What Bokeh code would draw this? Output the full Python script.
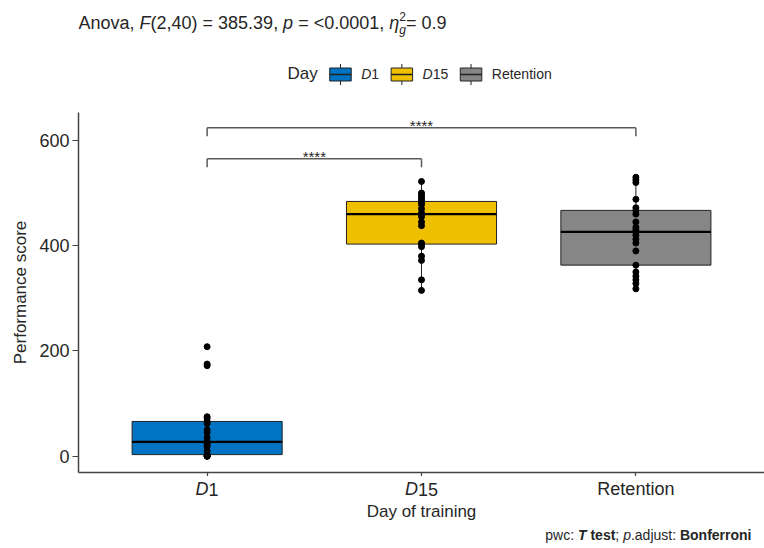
import numpy as np
from bokeh.plotting import figure
from bokeh.models import Range1d, FixedTicker, Label
from bokeh.layouts import column
from bokeh.embed import file_html
from bokeh.resources import INLINE

# ---------------- data ----------------
categories = ["D1", "D15", "Retention"]
colors = ["#0073C2", "#EFC000", "#868686"]
d1_scores = [0, 0, 0, 1, 2, 3, 10, 18, 22, 25, 27, 35, 45, 50, 62, 66, 72, 75, 172, 175, 208]
d15_scores = [315, 335, 372, 380, 398, 403, 405, 438, 445, 455, 460, 462, 470, 478, 482, 484, 488, 492, 496, 500, 522]
retention_scores = [318, 328, 335, 342, 350, 363, 390, 405, 412, 420, 426, 430, 435, 445, 460, 467, 472, 488, 520, 525, 530]
y_ticks = [0, 200, 400, 600]
bracket_from = ["D1", "D1"]
bracket_to = ["D15", "Retention"]
bracket_y = [565, 624]
bracket_label = ["****", "****"]
y_label = "Performance score"
x_label = "Day of training"
legend_title = "Day"

# ---------------- style / layout ----------------
FONT = "Liberation Sans"
TEXT = "#262626"
W, H = 764, 548
HEADER_H = 104
MAIN_TOP_B, MAIN_BOT_B = 8, 4
FRAME_L, FRAME_R, FRAME_T, FRAME_B = 78, 764, 112, 472  # page px
MAIN_H = MAIN_TOP_B + (FRAME_B - FRAME_T) + MAIN_BOT_B
BOTTOM_TOP = HEADER_H + MAIN_H
BOTTOM_H = H - BOTTOM_TOP
X0, X1 = 0.4, 3.6
Y0, Y1 = -31, 653
BASE_FIX = 0.36  # lift (in em) so that y is the alphabetic baseline

REG = {' ': 278, '!': 278, '(': 333, ')': 333, '*': 389, ',': 278, '.': 278, ':': 278, ';': 278,
       '<': 584, '=': 584, 'A': 667, 'B': 667, 'D': 722, 'F': 611, 'P': 667, 'R': 722, 'T': 611,
       'a': 556, 'c': 500, 'd': 556, 'e': 556, 'f': 278, 'g': 556, 'i': 222, 'j': 222, 'm': 833,
       'n': 556, 'o': 556, 'p': 556, 'r': 333, 's': 500, 't': 278, 'u': 556, 'v': 500, 'w': 722,
       'y': 500, 'η': 556}
for d in "0123456789":
    REG[d] = 556
BOLD = {' ': 278, 'T': 611, 't': 333, 'e': 556, 's': 556, 'B': 722, 'o': 611, 'n': 611, 'f': 333,
        'r': 389, 'i': 278}


def tw(s, size, style):
    tab = BOLD if "bold" in style else REG
    return sum(tab.get(c, REG.get(c, 556)) for c in s) / 1000.0 * size


def px2x(px):
    return X0 + (px - FRAME_L) * (X1 - X0) / (FRAME_R - FRAME_L)


def rich(fig, pieces, x, y, size, align="left"):
    """pieces: (text, style, size or None, dy, advance); x data units, y in fig's y units"""
    total = sum(tw(t, sz or size, st) for t, st, sz, dy, adv in pieces if adv)
    off = 0.0
    if align == "center":
        off -= total / 2
    elif align == "right":
        off -= total
    for t, st, sz, dy, adv in pieces:
        fs = sz or size
        lead = len(t) - len(t.lstrip(" "))
        shown = t.strip(" ")
        if shown:
            fig.add_layout(Label(x=x, y=y, x_offset=off + tw(" " * lead, fs, st),
                                 y_offset=dy + BASE_FIX * fs,
                                 text=shown, text_font=FONT, text_font_size=f"{fs}px",
                                 text_font_style=st, text_color=TEXT, text_align="left",
                                 text_baseline="alphabetic"))
        if adv:
            off += tw(t, fs, st)


def label_pieces(name, size=None):
    if name.startswith("D"):
        return [("D", "italic", size, 0, True), (name[1:], "normal", size, 0, True)]
    return [(name, "normal", size, 0, True)]


# ---------------- main plot ----------------
p = figure(width=W, height=MAIN_H, x_range=Range1d(X0, X1), y_range=Range1d(Y0, Y1),
           toolbar_location=None, output_backend="svg",
           min_border_left=FRAME_L, min_border_right=0,
           min_border_top=MAIN_TOP_B, min_border_bottom=MAIN_BOT_B)
p.grid.visible = False
p.outline_line_color = None

pos = {c: i + 1 for i, c in enumerate(categories)}
groups = [d1_scores, d15_scores, retention_scores]

for cat, col, vals in zip(categories, colors, groups):
    v = np.array(vals, dtype=float)
    q1, med, q3 = np.percentile(v, [25, 50, 75])
    iqr = q3 - q1
    lo = v[v >= q1 - 1.5 * iqr].min()
    hi = v[v <= q3 + 1.5 * iqr].max()
    x = pos[cat]
    p.segment(x0=[x, x], y0=[q3, q1], x1=[x, x], y1=[hi, lo], line_color="#222222", line_width=1)
    p.quad(left=[x - 0.35], right=[x + 0.35], bottom=[q1], top=[q3], fill_color=col,
           line_color="#222222", line_width=1)
    p.segment(x0=[x - 0.35], y0=[med], x1=[x + 0.35], y1=[med], line_color="black", line_width=2.2)

for cat, vals in zip(categories, groups):
    p.scatter(x=[pos[cat]] * len(vals), y=vals, size=6, color="black")

TIP = 16
for a, b, yb, lab in zip(bracket_from, bracket_to, bracket_y, bracket_label):
    xa, xb = pos[a], pos[b]
    p.segment(x0=[xa, xa, xb], y0=[yb, yb - TIP, yb - TIP], x1=[xb, xa, xb], y1=[yb, yb, yb],
              line_color="#5a5a5a", line_width=1.5)
    p.add_layout(Label(x=(xa + xb) / 2, y=yb, y_offset=-3 + BASE_FIX * 15, text=lab,
                       text_font=FONT, text_font_size="15px", text_color=TEXT,
                       text_align="center", text_baseline="alphabetic"))

for ax in (p.xaxis[0], p.yaxis[0]):
    ax.axis_line_color = "#444444"
    ax.axis_line_width = 1.5
    ax.major_tick_line_color = "#444444"
    ax.major_tick_line_width = 1.2
    ax.major_tick_in = 0
    ax.minor_tick_line_color = None
    ax.major_label_text_font = FONT
    ax.major_label_text_color = TEXT

p.yaxis.ticker = FixedTicker(ticks=y_ticks)
p.yaxis.major_tick_out = 6
p.yaxis.major_label_standoff = 3
p.yaxis.major_label_text_font_size = "18px"
p.yaxis.axis_label = y_label
p.yaxis.axis_label_text_font = FONT
p.yaxis.axis_label_text_font_size = "17px"
p.yaxis.axis_label_text_font_style = "normal"
p.yaxis.axis_label_text_color = TEXT
p.yaxis.axis_label_standoff = 6

p.xaxis.ticker = FixedTicker(ticks=[pos[c] for c in categories])
p.xaxis.major_tick_out = 4
p.xaxis.major_label_standoff = 0
p.xaxis.major_label_text_font_size = "0px"
p.xaxis.major_label_overrides = {pos[c]: "" for c in categories}

# ---------------- header (title + legend) ----------------
hdr = figure(width=W, height=HEADER_H, x_range=p.x_range, y_range=Range1d(HEADER_H, 0),
             x_axis_location=None, y_axis_location=None, toolbar_location=None,
             output_backend="svg", min_border=0)
hdr.grid.visible = False
hdr.outline_line_color = None

title_pieces = [
    ("Anova, ", "normal", None, 0, True),
    ("F", "italic", None, 0, True),
    ("(2,40) = 385.39, ", "normal", None, 0, True),
    ("p", "italic", None, 0, True),
    (" = <0.0001, ", "normal", None, 0, True),
    ("η", "italic", None, 0, True),
    ("2", "normal", 12, 9, False),
    ("g", "italic", 12, -5, True),
    ("= 0.9", "normal", None, 0, True),
]
rich(hdr, title_pieces, px2x(78), 29, 18)

lx = 287.0
rich(hdr, [(legend_title, "normal", None, 0, True)], px2x(lx), 79, 17)
lx += tw(legend_title, 17, "normal") + 12
KEY_W, KEY_T, KEY_B = 21.5, 67.5, 80.5
for cat, col in zip(categories, colors):
    l, r = px2x(lx), px2x(lx + KEY_W)
    cx = (l + r) / 2
    hdr.quad(left=[l], right=[r], top=[KEY_T], bottom=[KEY_B], fill_color=col,
             line_color="#222222", line_width=1)
    hdr.segment(x0=[cx, cx, l], y0=[KEY_T - 4, KEY_B, (KEY_T + KEY_B) / 2],
                x1=[cx, cx, r], y1=[KEY_T, KEY_B + 4, (KEY_T + KEY_B) / 2],
                line_color="#222222", line_width=[1, 1, 1.6])
    lx += KEY_W + 10
    pcs = label_pieces(cat, 14)
    rich(hdr, pcs, px2x(lx), 79, 14)
    lx += sum(tw(t, 14, s) for t, s, _, _, _ in pcs) + 12

# ---------------- bottom strip (tick labels, x title, caption) ----------------
bot = figure(width=W, height=BOTTOM_H, x_range=p.x_range, y_range=Range1d(BOTTOM_H, 0),
             x_axis_location=None, y_axis_location=None, toolbar_location=None,
             output_backend="svg", min_border=0)
bot.grid.visible = False
bot.outline_line_color = None

for cat in categories:
    rich(bot, label_pieces(cat), pos[cat], 495 - BOTTOM_TOP, 18, align="center")

rich(bot, [(x_label, "normal", None, 0, True)], px2x(421), 517 - BOTTOM_TOP, 17, align="center")

footer = [
    ("pwc: ", "normal", None, 0, True),
    ("T", "bold italic", None, 0, True),
    (" test", "bold", None, 0, True),
    ("; ", "normal", None, 0, True),
    ("p", "italic", None, 0, True),
    (".adjust: ", "normal", None, 0, True),
    ("Bonferroni", "bold", None, 0, True),
]
rich(bot, footer, px2x(751), 540 - BOTTOM_TOP, 14, align="right")

layout = column(hdr, p, bot, spacing=0)
open("out.html", "w").write(file_html(layout, INLINE))
